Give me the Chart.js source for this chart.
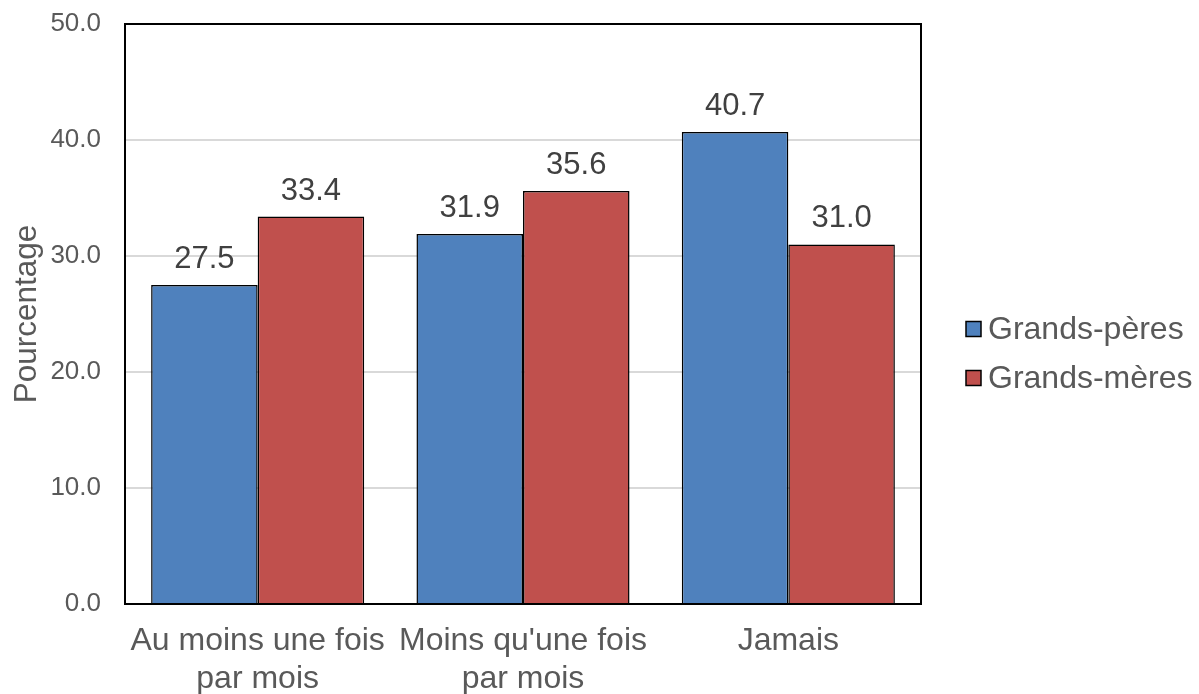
<!DOCTYPE html>
<html>
<head>
<meta charset="utf-8">
<script src="https://cdn.jsdelivr.net/npm/chart.js@4.4.1/dist/chart.umd.min.js"></script>
<style>
  html, body { margin: 0; padding: 0; background: #fff; }
  #wrap { width: 1199px; height: 694px; }
</style>
</head>
<body>
<div id="wrap"><canvas id="c" width="1199" height="694"></canvas></div>
<script>
const categories = [['Au moins une fois', 'par mois'], ['Moins qu\'une fois', 'par mois'], 'Jamais'];
const seriesNames = ['Grands-pères', 'Grands-mères'];
const grandsPeres = [27.5, 31.9, 40.7];
const grandsMeres = [33.4, 35.6, 31.0];
const colors = ['#4f81bd', '#c0504d'];

const FONT = '"Liberation Sans", Arial, sans-serif';

// labels au-dessus des barres
const valueLabels = {
  id: 'valueLabels',
  afterDatasetsDraw(chart) {
    const ctx = chart.ctx;
    ctx.save();
    ctx.font = '31px ' + FONT;
    ctx.fillStyle = '#404040';
    ctx.textAlign = 'center';
    ctx.textBaseline = 'alphabetic';
    chart.data.datasets.forEach((ds, i) => {
      chart.getDatasetMeta(i).data.forEach((bar, j) => {
        ctx.fillText(ds.data[j].toFixed(1), bar.x, bar.y - 17);
      });
    });
    ctx.restore();
  }
};

// cadre noir + légende à droite
const frameAndLegend = {
  id: 'frameAndLegend',
  afterDraw(chart) {
    const ctx = chart.ctx;
    const a = chart.chartArea;
    ctx.save();
    ctx.strokeStyle = '#000';
    ctx.lineWidth = 2;
    ctx.strokeRect(a.left, a.top, a.right - a.left, a.bottom - a.top);

    ctx.font = '32px ' + FONT;
    ctx.textBaseline = 'middle';
    ctx.textAlign = 'left';
    chart.data.datasets.forEach((ds, i) => {
      const y = 329 + i * 49;
      const x = a.right + 45;
      ctx.fillStyle = ds.backgroundColor;
      ctx.fillRect(x, y - 7.5, 15, 15);
      ctx.lineWidth = 1.5;
      ctx.strokeStyle = '#000';
      ctx.strokeRect(x, y - 7.5, 15, 15);
      ctx.fillStyle = '#595959';
      ctx.fillText(ds.label, x + 22, y + 1);
    });
    ctx.restore();
  }
};

new Chart(document.getElementById('c').getContext('2d'), {
  type: 'bar',
  data: {
    labels: categories,
    datasets: [
      { label: seriesNames[0], data: grandsPeres, backgroundColor: colors[0], borderColor: '#000', borderWidth: 1.5 },
      { label: seriesNames[1], data: grandsMeres, backgroundColor: colors[1], borderColor: '#000', borderWidth: 1.5 }
    ]
  },
  options: {
    responsive: false,
    animation: false,
    layout: { padding: { top: 24, right: 278, bottom: 0, left: 0 } },
    plugins: { legend: { display: false }, tooltip: { enabled: false } },
    datasets: { bar: { categoryPercentage: 0.803, barPercentage: 1.0 } },
    scales: {
      x: {
        afterFit(s) { s.height = 90; },
        grid: { display: false, drawTicks: false },
        border: { display: false },
        ticks: { color: '#595959', font: { family: FONT, size: 32 }, padding: 18, maxRotation: 0, autoSkip: false }
      },
      y: {
        min: 0, max: 50,
        afterFit(s) { s.width = 125; s.paddingTop = 0; s.paddingBottom = 0; },
        grid: { color: '#d9d9d9', lineWidth: 2, drawTicks: false },
        border: { display: false },
        ticks: { stepSize: 10, color: '#595959', font: { family: FONT, size: 26 }, padding: 24,
                 callback: v => v.toFixed(1) },
        title: { display: true, text: 'Pourcentage', color: '#595959',
                 font: { family: FONT, size: 31.5 }, padding: { top: 8, bottom: 0 } }
      }
    }
  },
  plugins: [valueLabels, frameAndLegend]
});
</script>
</body>
</html>
